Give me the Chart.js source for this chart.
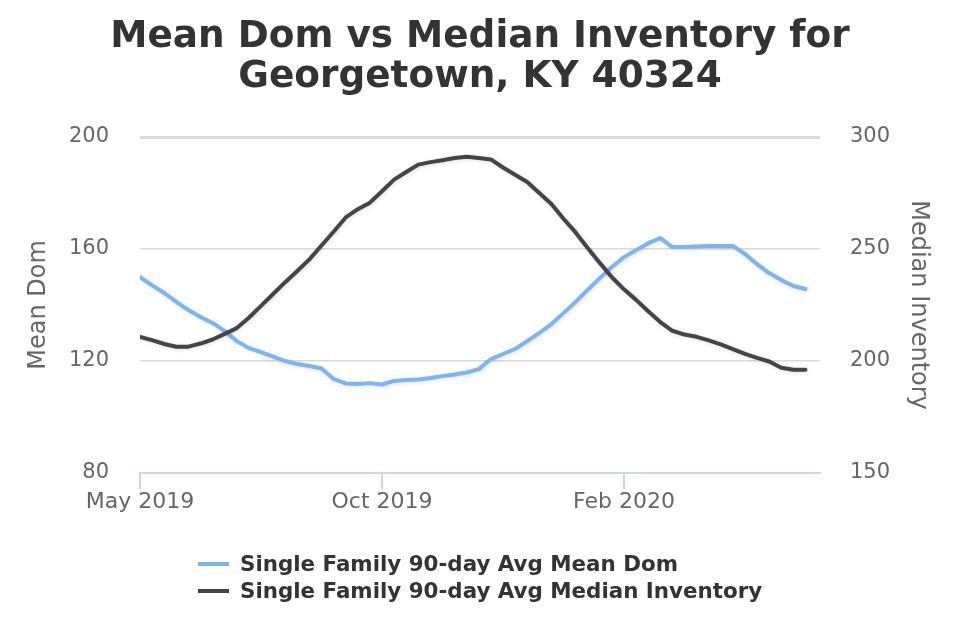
<!DOCTYPE html>
<html>
<head>
<meta charset="utf-8">
<title>Mean Dom vs Median Inventory for Georgetown, KY 40324</title>
<script src="https://cdn.jsdelivr.net/npm/chart.js@4.4.0/dist/chart.umd.min.js"></script>
<style>
  html, body { margin: 0; padding: 0; background: #ffffff; }
  #wrap { width: 960px; height: 640px; }
</style>
</head>
<body>
<div id="wrap"><canvas id="domChart" width="960" height="640"></canvas></div>
<script>
// weekly points, May 2019 .. Jun 2020
const xTickIndex = [0, 20, 40];
const xTickLabels = ["May 2019", "Oct 2019", "Feb 2020"];

const meanDom = [
  150.0, 147.0, 144.3, 141.1, 138.2, 135.7, 133.6, 130.7, 127.1, 124.6,
  123.2, 121.6, 120.0, 118.9, 118.2, 117.3, 113.6, 112.0, 111.8, 112.1,
  111.6, 112.9, 113.2, 113.4, 113.9, 114.6, 115.2, 115.9, 117.1, 120.7,
  122.5, 124.3, 127.1, 130.0, 133.2, 137.1, 141.1, 145.4, 149.6, 153.6,
  157.1, 159.6, 162.1, 163.9, 160.7, 160.7, 160.9, 161.1, 161.1, 161.1,
  158.2, 154.6, 151.4, 148.9, 146.8, 145.7
];

const medianInventory = [
  210.8, 209.3, 207.6, 206.4, 206.4, 207.8, 209.6, 212.1, 214.7, 219.3,
  224.6, 229.9, 235.2, 240.2, 245.4, 251.6, 257.7, 264.1, 267.8, 270.7,
  275.8, 281.0, 284.4, 287.7, 288.8, 289.6, 290.6, 291.2, 290.6, 290.0,
  286.4, 283.2, 279.9, 275.0, 270.1, 263.5, 257.4, 250.5, 243.8, 237.4,
  232.0, 227.3, 222.2, 217.4, 213.5, 211.8, 210.8, 209.2, 207.4, 205.3,
  203.2, 201.4, 199.8, 197.0, 196.1, 196.1
];

const seriesNames = [
  "Single Family 90-day Avg Mean Dom",
  "Single Family 90-day Avg Median Inventory"
];

Chart.defaults.font.family = '"DejaVu Sans", Verdana, sans-serif';

// soft shadow under the lines, like the original
const lineShadow = {
  id: "lineShadow",
  beforeDatasetDraw(chart) {
    const c = chart.ctx;
    c.save();
    c.shadowColor = "rgba(0,0,0,0.13)";
    c.shadowBlur = 4;
    c.shadowOffsetX = 1;
    c.shadowOffsetY = 1;
  },
  afterDatasetDraw(chart) {
    chart.ctx.restore();
  }
};

// stacked legend, items left-aligned in a centred block
const stackedLegend = {
  id: "stackedLegend",
  afterDraw(chart) {
    const ctx = chart.ctx;
    const sets = chart.data.datasets;
    ctx.save();
    ctx.font = 'bold 21.4px "DejaVu Sans", Verdana, sans-serif';
    const textW = Math.max(...sets.map(d => ctx.measureText(d.label).width));
    const blockW = 42 + textW;
    const x0 = Math.round(chart.width / 2 - blockW / 2);
    sets.forEach((d, i) => {
      const y = 564 + i * 27;
      ctx.strokeStyle = d.borderColor;
      ctx.lineWidth = 4;
      ctx.beginPath();
      ctx.moveTo(x0, y);
      ctx.lineTo(x0 + 31, y);
      ctx.stroke();
      ctx.fillStyle = "#333333";
      ctx.textAlign = "left";
      ctx.textBaseline = "middle";
      ctx.fillText(d.label, x0 + 42, y + 1);
    });
    ctx.restore();
  }
};

new Chart(document.getElementById("domChart"), {
  type: "line",
  data: {
    datasets: [
      {
        label: seriesNames[0],
        data: meanDom.map((v, i) => ({ x: i, y: v })),
        yAxisID: "y",
        borderColor: "#7cb5ec",
        backgroundColor: "#7cb5ec",
        borderWidth: 4,
        pointRadius: 0,
        tension: 0,
        borderJoinStyle: "round",
        borderCapStyle: "round",
        order: 1
      },
      {
        label: seriesNames[1],
        data: medianInventory.map((v, i) => ({ x: i, y: v })),
        yAxisID: "y1",
        borderColor: "#434348",
        backgroundColor: "#434348",
        borderWidth: 4,
        pointRadius: 0,
        tension: 0,
        borderJoinStyle: "round",
        borderCapStyle: "round",
        order: 0
      }
    ]
  },
  options: {
    responsive: false,
    animation: false,
    layout: { padding: { left: 0, right: 0, top: 0, bottom: 107 } },
    scales: {
      x: {
        type: "linear",
        min: 0,
        max: 56.2,
        afterBuildTicks: (s) => { s.ticks = xTickIndex.map(v => ({ value: v })); },
        ticks: {
          callback: (v, i) => xTickLabels[i],
          color: "#666666",
          font: { size: 22 },
          padding: 0,
          maxRotation: 0,
          autoSkip: false
        },
        grid: { drawOnChartArea: false, color: "#ccd6eb", lineWidth: 2, tickLength: 16 },
        border: { color: "#ccd6eb", width: 2 },
        afterFit: (s) => { s.height = 60; }
      },
      y: {
        position: "left",
        min: 80,
        max: 200,
        ticks: { stepSize: 40, color: "#666666", font: { size: 21 }, padding: 31 },
        grid: {
          drawTicks: false,
          color: (c) => (c.tick && c.tick.value === 80 ? "rgba(0,0,0,0)" : "#d9d9d9"),
          lineWidth: (c) => (c.tick && c.tick.value === 200 ? 3 : 1.5)
        },
        border: { display: false },
        title: {
          display: true,
          text: "Mean Dom",
          color: "#666666",
          font: { size: 24 },
          padding: { top: 24.6, bottom: 0 }
        },
        afterFit: (s) => { s.width = 140; }
      },
      y1: {
        position: "right",
        min: 150,
        max: 300,
        ticks: { stepSize: 50, color: "#666666", font: { size: 21 }, padding: 30 },
        grid: { drawOnChartArea: false, drawTicks: false },
        border: { display: false },
        title: {
          display: true,
          text: "Median Inventory",
          color: "#666666",
          font: { size: 24 },
          padding: { top: 27.6, bottom: 0 }
        },
        afterFit: (s) => { s.width = 140; }
      }
    },
    plugins: {
      title: {
        display: true,
        text: ["Mean Dom vs Median Inventory for", "Georgetown, KY 40324"],
        color: "#333333",
        font: { size: 37.4, weight: "bold", lineHeight: 1.07 },
        padding: { top: 17, bottom: 40 }
      },
      legend: { display: false },
      tooltip: { enabled: false }
    }
  },
  plugins: [lineShadow, stackedLegend]
});
</script>
</body>
</html>
